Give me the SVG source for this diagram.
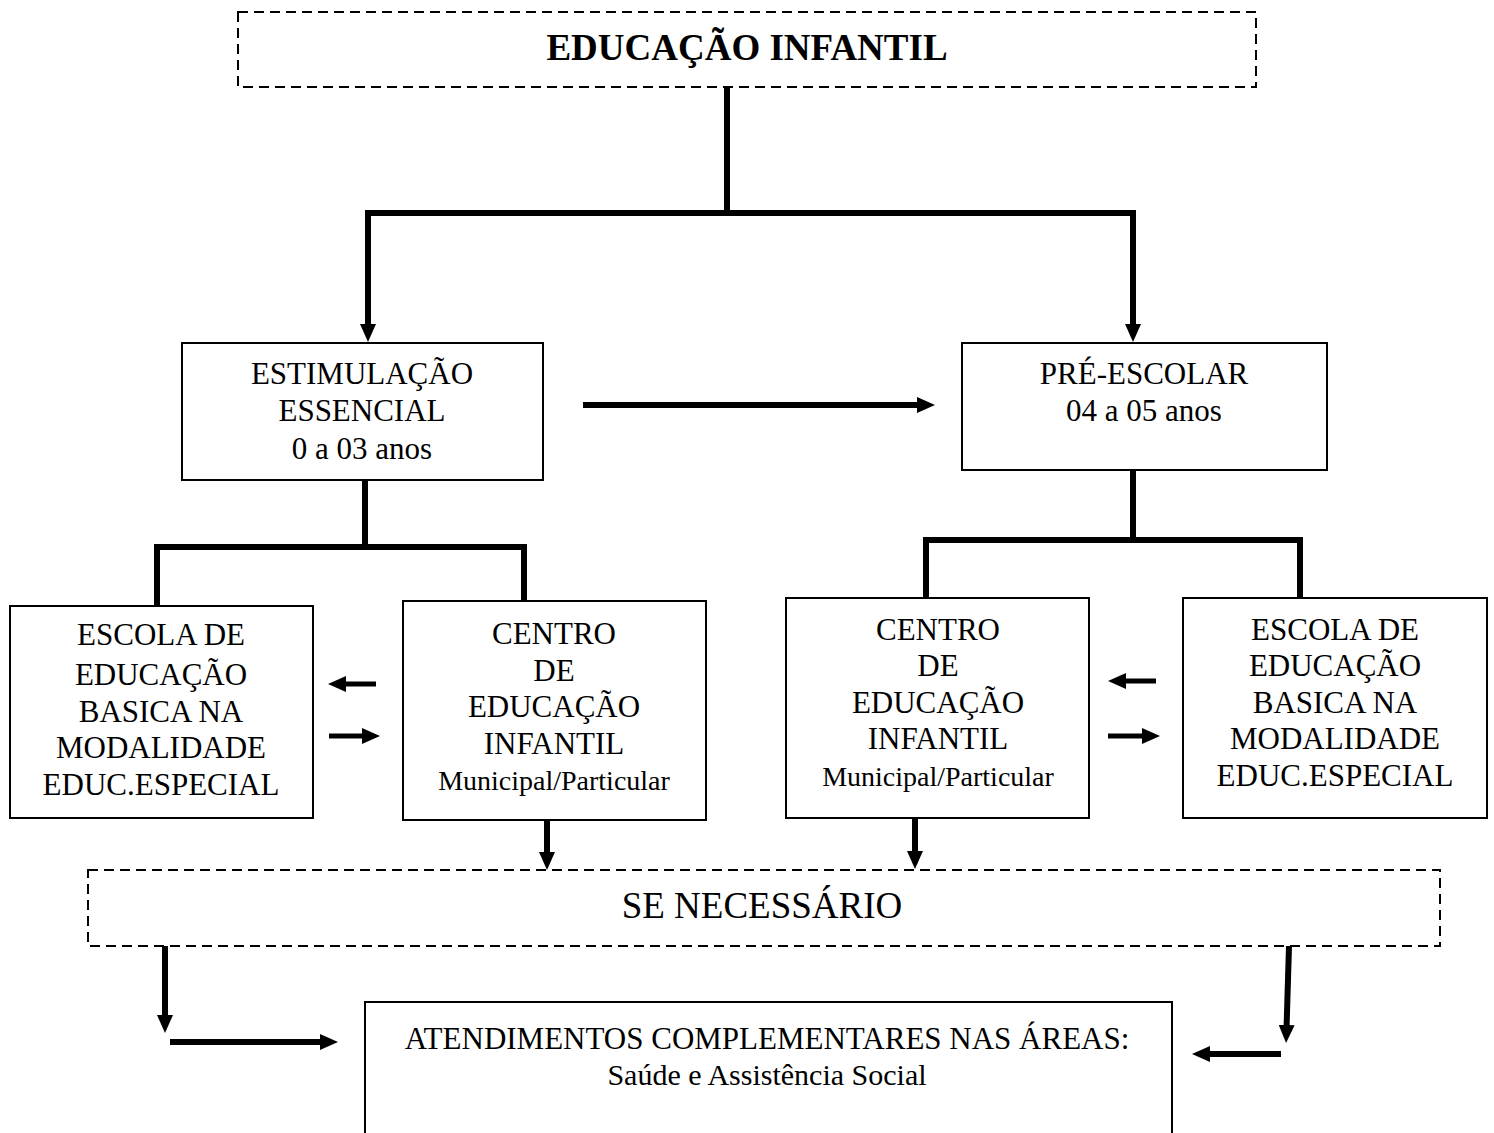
<svg xmlns="http://www.w3.org/2000/svg" width="1494" height="1133" viewBox="0 0 1494 1133">
<style>
.box{fill:#fff;stroke:#000;stroke-width:2}
.dash{fill:#fff;stroke:#000;stroke-width:2;stroke-dasharray:10 6}
.t{font-family:"Liberation Serif","Times New Roman",serif;font-size:31px;fill:#000;text-anchor:middle}
.s{font-size:28px}
.c{fill:none;stroke:#000;stroke-width:6;stroke-linecap:butt;stroke-linejoin:miter}
.c2{fill:none;stroke:#000;stroke-width:5}
</style>
<defs>
<marker id="ah" markerUnits="userSpaceOnUse" markerWidth="18" markerHeight="16" refX="4" refY="8" orient="auto" viewBox="0 0 18 16">
<path d="M0,0 L18,8 L0,16 z" fill="#000"/>
</marker>
</defs>
<rect width="1494" height="1133" fill="#fff"/>
<g id="connectors">
<path class="c" d="M727,87 V213 M365,213 H1136"/>
<path class="c" d="M368,213 V328" marker-end="url(#ah)"/>
<path class="c" d="M1133,213 V328" marker-end="url(#ah)"/>
<path class="c" d="M583,405 H921" marker-end="url(#ah)"/>
<path class="c" d="M365,480 V547 M154,547 H527 M157,547 V606 M524,547 V601"/>
<path class="c" d="M1133,470 V540 M923,540 H1303 M926,540 V598 M1300,540 V598"/>
<path class="c2" d="M376,684 H342" marker-end="url(#ah)"/>
<path class="c2" d="M329,736 H366" marker-end="url(#ah)"/>
<path class="c2" d="M1156,681 H1122" marker-end="url(#ah)"/>
<path class="c2" d="M1108,736 H1146" marker-end="url(#ah)"/>
<path class="c" d="M547,820 V856" marker-end="url(#ah)"/>
<path class="c" d="M915,818 V855" marker-end="url(#ah)"/>
<path class="c" d="M165,946 V1019" marker-end="url(#ah)"/>
<path class="c" d="M170,1042 H324" marker-end="url(#ah)"/>
<path class="c" d="M1289,946 L1286.5,1029" marker-end="url(#ah)"/>
<path class="c" d="M1281,1054 H1206" marker-end="url(#ah)"/>
</g>
<g id="educacao-infantil">
<rect class="dash" x="238" y="12" width="1018" height="75"/>
<text class="t" x="747" y="60" style="font-weight:bold;font-size:37px">EDUCAÇÃO INFANTIL</text>
</g>
<g id="estimulacao">
<rect class="box" x="182" y="343" width="361" height="137"/>
<text class="t" x="362" y="384">ESTIMULAÇÃO</text>
<text class="t" x="362" y="421">ESSENCIAL</text>
<text class="t" x="362" y="459">0 a 03 anos</text>
</g>
<g id="pre-escolar">
<rect class="box" x="962" y="343" width="365" height="127"/>
<text class="t" x="1144" y="384">PRÉ-ESCOLAR</text>
<text class="t" x="1144" y="421">04 a 05 anos</text>
</g>
<g id="escola-esq">
<rect class="box" x="10" y="606" width="303" height="212"/>
<text class="t" x="161" y="645">ESCOLA DE</text>
<text class="t" x="161" y="685">EDUCAÇÃO</text>
<text class="t" x="161" y="722">BASICA NA</text>
<text class="t" x="161" y="758">MODALIDADE</text>
<text class="t" x="161" y="795">EDUC.ESPECIAL</text>
</g>
<g id="centro-esq">
<rect class="box" x="403" y="601" width="303" height="219"/>
<text class="t" x="554" y="644">CENTRO</text>
<text class="t" x="554" y="681">DE</text>
<text class="t" x="554" y="717">EDUCAÇÃO</text>
<text class="t" x="554" y="754">INFANTIL</text>
<text class="t s" x="554" y="790">Municipal/Particular</text>
</g>
<g id="centro-dir">
<rect class="box" x="786" y="598" width="303" height="220"/>
<text class="t" x="938" y="640">CENTRO</text>
<text class="t" x="938" y="676">DE</text>
<text class="t" x="938" y="713">EDUCAÇÃO</text>
<text class="t" x="938" y="749">INFANTIL</text>
<text class="t s" x="938" y="786">Municipal/Particular</text>
</g>
<g id="escola-dir">
<rect class="box" x="1183" y="598" width="304" height="220"/>
<text class="t" x="1335" y="640">ESCOLA DE</text>
<text class="t" x="1335" y="676">EDUCAÇÃO</text>
<text class="t" x="1335" y="713">BASICA NA</text>
<text class="t" x="1335" y="749">MODALIDADE</text>
<text class="t" x="1335" y="786">EDUC.ESPECIAL</text>
</g>
<g id="se-necessario">
<rect class="dash" x="88" y="870" width="1352" height="76"/>
<text class="t" x="762" y="918" style="font-size:37px">SE NECESSÁRIO</text>
</g>
<g id="atendimentos">
<rect class="box" x="365" y="1002" width="807" height="160"/>
<text class="t" x="767" y="1049">ATENDIMENTOS COMPLEMENTARES NAS ÁREAS:</text>
<text class="t" x="767" y="1085" style="font-size:30px">Saúde e Assistência Social</text>
</g>
</svg>
